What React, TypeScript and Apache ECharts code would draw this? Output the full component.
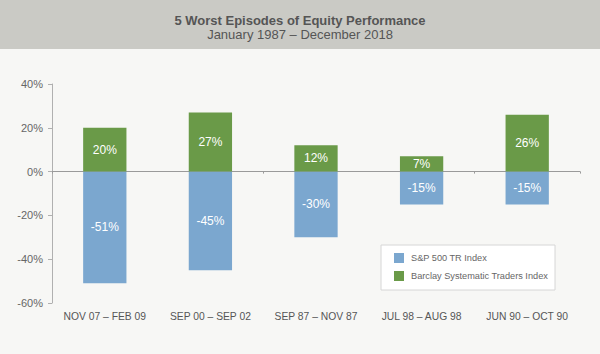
import React, { useEffect, useRef } from "react";
import * as echarts from "echarts";

const categories = ["NOV 07 – FEB 09", "SEP 00 – SEP 02", "SEP 87 – NOV 87", "JUL 98 – AUG 98", "JUN 90 – OCT 90"];
const spValues = [-51, -45, -30, -15, -15];
const barclayValues = [20, 27, 12, 7, 26];
const seriesNames = ["S&P 500 TR Index", "Barclay Systematic Traders Index"];
const titleText = "5 Worst Episodes of Equity Performance";
const subtitleText = "January 1987 – December 2018";

const FONT = "'Liberation Sans', Arial, Helvetica, sans-serif";

export default function App() {
  const ref = useRef<HTMLDivElement>(null);
  useEffect(() => {
    if (!ref.current) return;
    const chart = echarts.init(ref.current, null, { renderer: "svg" });
    chart.setOption({
      animation: false,
      backgroundColor: "#f7f7f5",
      textStyle: { fontFamily: FONT },
      graphic: [
        {
          type: "rect",
          left: 0,
          top: 0,
          shape: { width: 600, height: 49 },
          style: { fill: "#cacac5" },
          z: -10,
        },
      ],
      title: {
        text: titleText,
        subtext: subtitleText,
        left: "center",
        top: 9,
        itemGap: 1,
        textStyle: { fontFamily: FONT, fontSize: 13, fontWeight: "bold", color: "#555555" },
        subtextStyle: { fontFamily: FONT, fontSize: 13, color: "#555555" },
      },
      legend: {
        orient: "vertical",
        left: 381,
        top: 245,
        padding: [8, 7, 9, 13],
        itemGap: 8,
        itemWidth: 10,
        itemHeight: 10,
        icon: "rect",
        backgroundColor: "#ffffff",
        borderColor: "#d6d6d6",
        borderWidth: 1,
        textStyle: { fontFamily: FONT, fontSize: 9.2, color: "#666666", padding: [0, 0, 0, 2] },
        data: seriesNames,
      },
      grid: { left: 52, right: 20, top: 84, bottom: 51, containLabel: false },
      xAxis: [
        {
          type: "category",
          data: categories,
          position: "bottom",
          axisLine: { show: false, onZero: false },
          axisTick: { show: false },
          axisLabel: { color: "#555555", fontSize: 10.3, margin: 8, interval: 0, hideOverlap: false, fontFamily: FONT },
        },
        {
          type: "category",
          data: categories,
          position: "bottom",
          axisLine: { show: true, onZero: true, lineStyle: { color: "#9a9a9a", width: 1 } },
          axisTick: { show: true, length: 2, lineStyle: { color: "#9a9a9a" } },
          axisLabel: { show: false },
        },
      ],
      yAxis: {
        type: "value",
        min: -60,
        max: 40,
        interval: 20,
        axisLine: { show: true, lineStyle: { color: "#b0b0b0" } },
        axisTick: { show: true, length: 4, lineStyle: { color: "#b0b0b0" } },
        splitLine: { show: false },
        axisLabel: { formatter: "{value}%", color: "#666666", fontSize: 11, margin: 9, fontFamily: FONT },
      },
      series: [
        {
          name: seriesNames[0],
          type: "bar",
          stack: "total",
          data: spValues,
          barWidth: "41%",
          itemStyle: { color: "#7ba7cf" },
          label: { show: true, position: "inside", formatter: "{c}%", color: "#ffffff", fontSize: 12, fontFamily: FONT },
        },
        {
          name: seriesNames[1],
          type: "bar",
          stack: "total",
          data: barclayValues,
          barWidth: "41%",
          itemStyle: { color: "#6a9a48" },
          label: { show: true, position: "inside", formatter: "{c}%", color: "#ffffff", fontSize: 12, fontFamily: FONT },
        },
      ],
    });
    return () => chart.dispose();
  }, []);
  return <div ref={ref} style={{ width: 600, height: 354, position: "absolute", left: 0, top: 0 }} />;
}
